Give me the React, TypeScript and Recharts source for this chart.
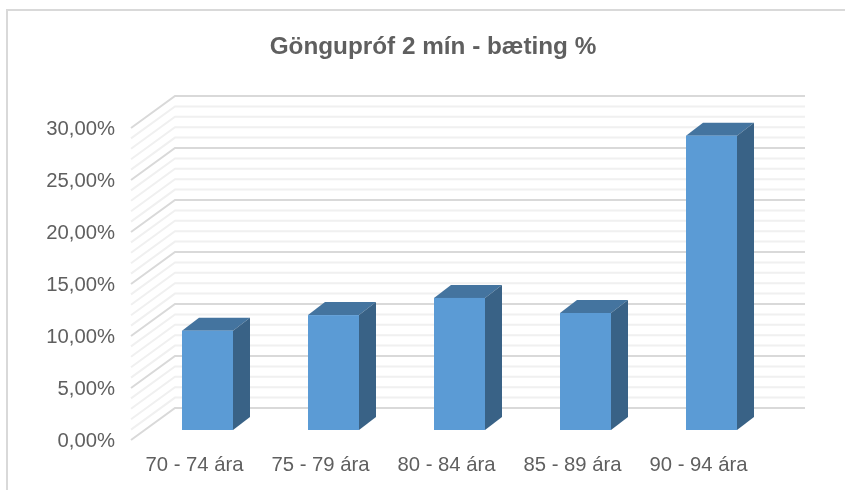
import React from "react";
import { BarChart, Bar, XAxis, YAxis } from "recharts";

const categories = ["70 - 74 ára", "75 - 79 ára", "80 - 84 ára", "85 - 89 ára", "90 - 94 ára"];
const improvement = [9.55, 11.05, 12.7, 11.25, 28.3];
const yTicks = Array.from({ length: 31 }, (_, i) => i);
const title = "Göngupróf 2 mín - bæting %";

const rows = categories.map((name, i) => ({ name, value: improvement[i] }));
const FONT = '"Liberation Sans", Arial, sans-serif';
const TEXT = "#5f5f5f";

const FRONT_X = 131;
const BACK_X = 175;
const RIGHT_X = 805;
const LABEL_X = 115;
const FRONT_DY = 10;
const BACK_DY = -22;
const MARGIN = { top: 118, bottom: 30, left: 44.5, right: 70.5 };

const YTick = (props: any) => {
  const { y, payload } = props;
  const v = payload.value as number;
  const major = v % 5 === 0;
  return (
    <g>
      <polyline
        points={`${FRONT_X},${y + FRONT_DY} ${BACK_X},${y + BACK_DY} ${RIGHT_X},${y + BACK_DY}`}
        fill="none"
        stroke={major ? "#d9d9d9" : "#f0f0f0"}
        strokeWidth={2}
      />
      {major && (
        <text x={LABEL_X} y={y + FRONT_DY + 7} textAnchor="end" fontFamily={FONT} fontSize={20.3} fill={TEXT}>
          {v.toFixed(2).replace(".", ",")}%
        </text>
      )}
    </g>
  );
};

const XTick = (props: any) => {
  const { x, payload } = props;
  return (
    <text x={x - 13} y={471} textAnchor="middle" fontFamily={FONT} fontSize={20.3} fill={TEXT}>
      {payload.value}
    </text>
  );
};

const Bar3D = (props: any) => {
  const { x, y, width, height } = props;
  const dx = 17;
  const dy = -13;
  return (
    <g>
      <polygon points={`${x},${y} ${x + dx},${y + dy} ${x + width + dx},${y + dy} ${x + width},${y}`} fill="#44749f" />
      <polygon
        points={`${x + width},${y} ${x + width + dx},${y + dy} ${x + width + dx},${y + height + dy} ${x + width},${y + height}`}
        fill="#396286"
      />
      <rect x={x} y={y} width={width} height={height} fill="#5b9bd5" />
    </g>
  );
};

const layer: React.CSSProperties = { position: "absolute", left: 0, top: 0 };

export default function App() {
  return (
    <div style={{ position: "absolute", left: 0, top: 0, width: 845, height: 490, overflow: "hidden", background: "#fff", filter: "blur(0.4px)" }}>
      <div style={{ position: "absolute", left: 6, top: 9, right: -4, height: 2, background: "#d9d9d9" }} />
      <div style={{ position: "absolute", left: 6, top: 9, bottom: -4, width: 2, background: "#d9d9d9" }} />
      <div
        style={{
          position: "absolute",
          left: 0,
          width: 866,
          top: 32,
          textAlign: "center",
          fontFamily: FONT,
          fontWeight: 700,
          fontSize: 24.3,
          lineHeight: "28px",
          color: TEXT,
        }}
      >
        {title}
      </div>
      <div style={layer}>
        <BarChart width={845} height={490} data={rows} margin={MARGIN}>
          <YAxis width={100} domain={[0, 30]} ticks={yTicks} interval={0} tick={YTick} axisLine={false} tickLine={false} type="number" />
          <XAxis dataKey="name" height={30} interval={0} tick={XTick} axisLine={false} tickLine={false} />
          <Bar dataKey="value" fill="none" isAnimationActive={false} />
        </BarChart>
      </div>
      <div style={layer}>
        <BarChart width={845} height={490} data={rows} margin={{ ...MARGIN, bottom: 60, left: 144.5 }} barCategoryGap={37.5}>
          <YAxis hide domain={[0, 30]} type="number" />
          <XAxis hide dataKey="name" />
          <Bar dataKey="value" shape={Bar3D} isAnimationActive={false} />
        </BarChart>
      </div>
    </div>
  );
}
